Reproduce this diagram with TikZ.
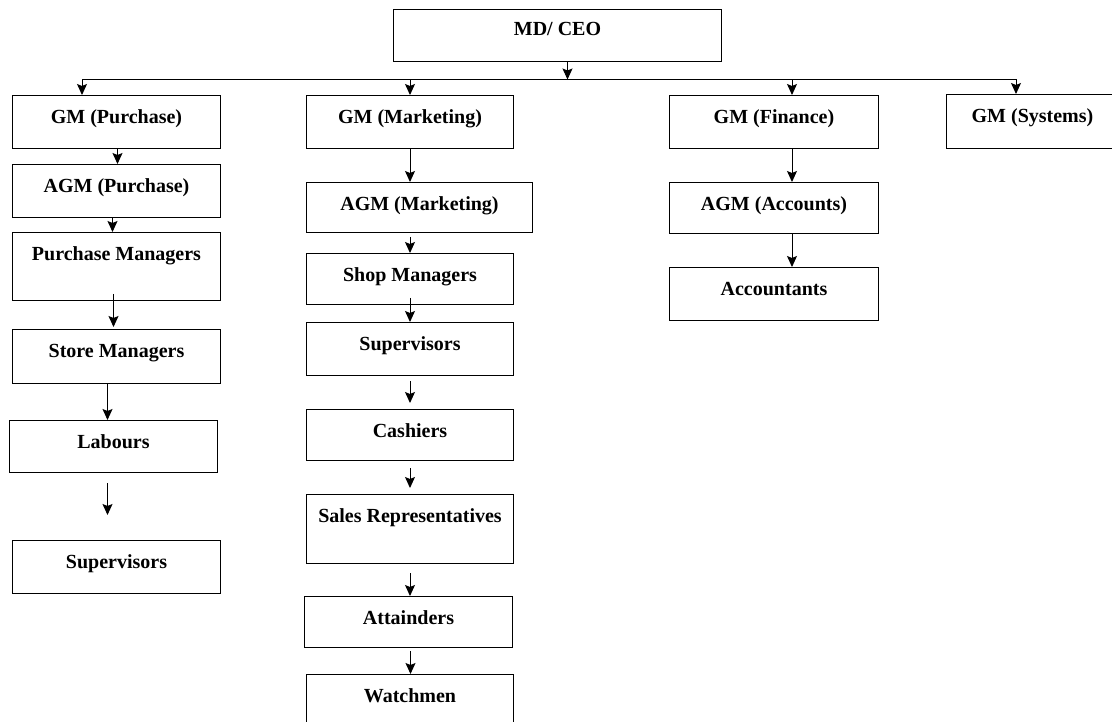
\documentclass[tikz,border=0pt]{standalone}
\usepackage{fontspec}
\setmainfont{Liberation Serif}
\usepackage{tikz}
\usetikzlibrary{arrows.meta}
\newcommand\postfont{\fontsize{20}{24}\selectfont\bfseries}
\tikzset{%
  post/.style={
    draw,
    line width=1pt,
    inner sep=0pt,
    anchor=north west,
    text height=28pt,
    text depth=#1,
    font=\postfont
  },
  post/.default=25pt,
}

\begin{document}
\begin{tikzpicture}[x=1pt,y=-1pt,>={Stealth[length=11pt,width=10pt,inset=2pt]},line width=1pt]
    \useasboundingbox (0,0) rectangle (1112,722);
    % top
    \node[post,minimum width=328pt,text height=26pt,text depth=26pt](ceo) at (393,9){MD/ CEO};
    \coordinate (bl) at (82,79.5);
    \coordinate (br) at (1016,79.5);
    % purchase
    \node[post,minimum width=208pt](gmp) at (12,95){GM (Purchase)};
    \node[post,minimum width=208pt](agmp) at (12,164){AGM (Purchase)};
    \node[post=40pt,minimum width=208pt](pm) at (12,232){Purchase Managers};
    \node[post=26pt,minimum width=208pt](sm) at (12,329){Store Managers};
    \node[post=24pt,minimum width=208pt](lab) at (9,420){Labours};
    \node[post,minimum width=208pt](supl) at (12,540){Supervisors};
    % marketing
    \node[post,minimum width=207pt](gmm) at (306,95){GM (Marketing)};
    \node[post=22pt,minimum width=226pt](agmm) at (306,182){AGM (Marketing)};
    \node[post=23pt,minimum width=207pt](shm) at (306,253){Shop Managers};
    \node[post,minimum width=207pt](supm) at (306,322){Supervisors};
    \node[post=23pt,minimum width=207pt](cash) at (306,409){Cashiers};
    \node[post=41pt,minimum width=207pt](sales) at (306,494){Sales Representatives};
    \node[post=23pt,minimum width=208pt](att) at (304,596){Attainders};
    \node[post=32pt,minimum width=207pt](watch) at (306,674){Watchmen};
    % finance, systems
    \node[post,minimum width=209pt](gmf) at (669,95){GM (Finance)};
    \node[post=23pt,minimum width=209pt](agma) at (669,182){AGM (Accounts)};
    \node[post,minimum width=209pt](acc) at (669,267){Accountants};
    \node[post=26pt,minimum width=172pt](gms) at (946,94){GM (Systems)};
    % bus
    \draw (bl) -- (br);
    \draw[->] ([xshift=10pt]ceo.south) -- ([xshift=10pt]ceo.south |- bl);
    \draw[->] (bl) -- (bl |- gmp.north);
    \draw[->] (gmm.north |- bl) -- (gmm.north);
    \draw[->] ([xshift=18pt]gmf.north |- bl) -- ([xshift=18pt]gmf.north);
    \draw[->] (br) -- (br |- gms.north);
    % purchase chain
    \draw[->] ([xshift=1pt]gmp.south) -- ([xshift=1pt]agmp.north);
    \draw[->] ([xshift=-4pt]agmp.south) -- ([xshift=-4pt]pm.north);
    \draw[->,shorten <=-7pt,shorten >=2pt] ([xshift=-3pt]pm.south) -- ([xshift=-3pt]sm.north);
    \draw[->] ([xshift=-9pt]sm.south) -- ([xshift=-6pt]lab.north);
    \draw[->,shorten <=10pt,shorten >=25pt] ([xshift=-6pt]lab.south) -- ([xshift=-9pt]supl.north);
    % marketing chain
    \draw[->] (gmm.south) -- (gmm.south |- agmm.north);
    \draw[->,shorten <=4pt] (shm.north |- agmm.south) -- (shm.north);
    \draw[->,shorten <=-7pt] (shm.south) -- (supm.north);
    \draw[->,shorten <=5pt,shorten >=6pt] (supm.south) -- (cash.north);
    \draw[->,shorten <=7pt,shorten >=6pt] (cash.south) -- (sales.north);
    \draw[->,shorten <=9pt] (sales.south) -- (sales.south |- att.north);
    \draw[->,shorten <=3pt] ([xshift=2pt]att.south) -- ([xshift=2pt]att.south |- watch.north);
    % finance chain
    \draw[->] ([xshift=18pt]gmf.south) -- ([xshift=18pt]agma.north);
    \draw[->] ([xshift=18pt]agma.south) -- ([xshift=18pt]acc.north);
\end{tikzpicture}
\end{document}
